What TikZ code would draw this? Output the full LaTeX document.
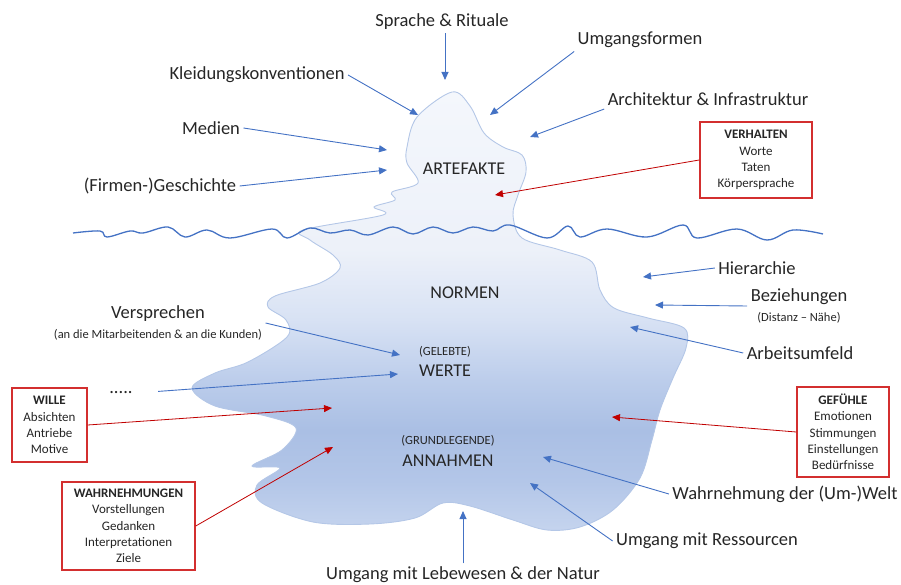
\documentclass[tikz,border=0pt]{standalone}
\usepackage{fontspec}
\setmainfont{Carlito}
\usetikzlibrary{arrows.meta}

\definecolor{iceblue}{HTML}{4472C4}
\definecolor{boxred}{HTML}{D32F2F}
\definecolor{linered}{HTML}{C00000}
\definecolor{icerim}{HTML}{B4C7E7}
\definecolor{txt}{HTML}{262626}
\definecolor{iceA}{HTML}{F4F7FC}
\definecolor{iceB}{HTML}{EDF1F9}
\definecolor{iceC}{HTML}{D8E2F4}
\definecolor{iceD}{HTML}{BCCDEB}
\definecolor{iceE}{HTML}{AABFE4}
\definecolor{iceF}{HTML}{B3C6E8}
\definecolor{iceG}{HTML}{C5D4EE}
\pgfdeclareverticalshading{iceshade}{100bp}{color(0bp)=(iceG); color(25bp)=(iceG);
  color(30.7bp)=(iceF); color(36.4bp)=(iceE); color(42.1bp)=(iceD);
  color(49bp)=(iceC); color(57bp)=(iceB); color(75bp)=(iceA); color(100bp)=(iceA)}

\begin{document}
\begin{tikzpicture}[x=1pt,y=-1pt,
    lbl/.style={font=\fontsize{18.5}{20}\selectfont, text=txt},
    layer/.style={font=\fontsize{18}{20}\selectfont, text=txt},
    note/.style={font=\fontsize{12.5}{14}\selectfont, text=txt},
    redbox/.style={draw=boxred, line width=1.5pt, fill=white, align=center,
      text=txt, inner sep=3pt, font=\fontsize{13}{16.3}\selectfont},
    bluearrow/.style={draw=iceblue, line width=0.9pt, -{Triangle[length=8pt,width=7pt]}},
    redarrow/.style={draw=linered, line width=0.8pt, -{Triangle[length=8pt,width=7pt]}},
    water/.style={draw=iceblue, line width=1.3pt}]
    \useasboundingbox (0,0) rectangle (901,585);

    \path [shading=iceshade, draw=icerim, line width=0.9pt]
      plot[smooth cycle, tension=0.55] coordinates {
        (452,92) (470,106) (484,133) (503,147) (522,155) (526,172) (518,195)
        (513,215) (522,238) (560,250) (592,262) (600,290) (614,308) (648,318)
        (684,328) (686,348) (673,378) (660,410) (652,440) (640,478) (613,510)
        (580,527) (547,530) (513,520) (470,506) (443,503) (415,518) (370,524)
        (313,522) (262,503) (257,485) (280,468) (252,466) (282,450) (296,428)
        (266,416) (215,406) (192,388) (215,373) (248,362) (287,337) (286,320)
        (268,307) (275,296) (320,283) (340,268) (333,255) (310,240) (303,230)
        (383,215) (374,207) (395,200) (392,192) (418,183) (407,163) (407,147)
        (417,117)};
    \draw [water] plot[smooth, tension=0.6] coordinates {
        (73,233) (100,231) (107,237) (130,231) (143,233) (168,227) (185,237)
        (207,230) (230,238) (272,229) (287,238) (310,228) (330,233) (350,230)
        (368,235) (393,227) (413,234) (433,227) (453,233) (473,227) (493,231)
        (510,225) (547,238) (568,226) (580,237) (607,229) (647,237) (683,225)
        (697,238) (737,229) (767,240) (793,230) (823,234)};

    \node [layer] (artefakte) at (464,169) {ARTEFAKTE};
    \node [layer] (normen) at (465,293) {NORMEN};
    \node [note] (gelebte) at (445,352) {(GELEBTE)};
    \node [layer] (werte) at (445,371) {WERTE};
    \node [note] (grundlegende) at (448,441) {(GRUNDLEGENDE)};
    \node [layer] (annahmen) at (448,461) {ANNAHMEN};

    \node [lbl] (sprache) at (442,22) {Sprache \& Rituale};
    \node [lbl] (umgang) at (640,40) {Umgangsformen};
    \node [lbl] (kleidung) at (257,75) {Kleidungskonventionen};
    \node [lbl] (architektur) at (708,99) {Architektur \& Infrastruktur};
    \node [lbl] (medien) at (211,128) {Medien};
    \node [lbl] (geschichte) at (160,186) {(Firmen-)Geschichte};
    \node [lbl] (hierarchie) at (757,268) {Hierarchie};
    \node [lbl, align=center] (beziehungen) at (799,306)
      {Beziehungen\\\fontsize{12.5}{14}\selectfont (Distanz – Nähe)};
    \node [lbl] (arbeit) at (800,353) {Arbeitsumfeld};
    \node [lbl, align=center] (versprechen) at (158,323)
      {Versprechen\\\fontsize{12.5}{14}\selectfont (an die Mitarbeitenden \& an die Kunden)};
    \node [lbl] (dots) at (121,393) {.....};
    \node [lbl] (welt) at (785,494) {Wahrnehmung der (Um-)Welt};
    \node [lbl] (ressourcen) at (707,541) {Umgang mit Ressourcen};
    \node [lbl] (natur) at (463,575) {Umgang mit Lebewesen \& der Natur};

    \node [redbox, minimum width=112pt, minimum height=76pt] (verhalten) at (756,160)
      {\textbf{VERHALTEN}\\Worte\\Taten\\Körpersprache};
    \node [redbox, minimum width=75pt, minimum height=74pt] (wille) at (49.5,425)
      {\textbf{WILLE}\\Absichten\\Antriebe\\Motive};
    \node [redbox, minimum width=92pt, minimum height=90pt] (gefuehle) at (843,432)
      {\textbf{GEFÜHLE}\\Emotionen\\Stimmungen\\Einstellungen\\Bedürfnisse};
    \node [redbox, minimum width=133pt, minimum height=88pt] (wahrnehmungen) at (128.5,526)
      {\textbf{WAHRNEHMUNGEN}\\Vorstellungen\\Gedanken\\Interpretationen\\Ziele};

    \coordinate (t sprache) at (445,80);
    \coordinate (t umgang) at (490,115);
    \coordinate (t kleidung) at (418,115);
    \coordinate (t architektur) at (530,137);
    \coordinate (t medien) at (387,150);
    \coordinate (t geschichte) at (387,170);
    \coordinate (t hierarchie) at (643,277);
    \coordinate (t beziehungen) at (655,305);
    \coordinate (t arbeit) at (630,327);
    \coordinate (t versprechen) at (400,355);
    \coordinate (t dots) at (398,374);
    \coordinate (t welt) at (543,457);
    \coordinate (t ressourcen) at (530,483);
    \coordinate (t natur) at (463,511);
    \coordinate (t verhalten) at (495,195);
    \coordinate (t wille) at (332,408);
    \coordinate (t gefuehle) at (612,417);
    \coordinate (t wahrnehmungen) at (333,447);

    \draw [bluearrow] (sprache.south -| t sprache) -- (t sprache);
    \draw [bluearrow] (umgang.south west) -- (t umgang);
    \draw [bluearrow] (kleidung.east) -- (t kleidung);
    \draw [bluearrow] (architektur.south west) -- (t architektur);
    \draw [bluearrow] (medien.east) -- (t medien);
    \draw [bluearrow] (geschichte.east) -- (t geschichte);
    \draw [bluearrow] (hierarchie.west) -- (t hierarchie);
    \draw [bluearrow] (beziehungen.west) -- (t beziehungen);
    \draw [bluearrow] (arbeit.west) -- (t arbeit);
    \draw [bluearrow] (versprechen.east) -- (t versprechen);
    \draw [bluearrow, shorten <=22pt] (dots.east) -- (t dots);
    \draw [bluearrow] (welt.west) -- (t welt);
    \draw [bluearrow] (ressourcen.west) -- (t ressourcen);
    \draw [bluearrow] (natur.north) -- (t natur);

    \draw [redarrow] (verhalten.west) -- (t verhalten);
    \draw [redarrow] (wille.east) -- (t wille);
    \draw [redarrow] (gefuehle.west) -- (t gefuehle);
    \draw [redarrow] (wahrnehmungen.east) -- (t wahrnehmungen);
\end{tikzpicture}
\end{document}
